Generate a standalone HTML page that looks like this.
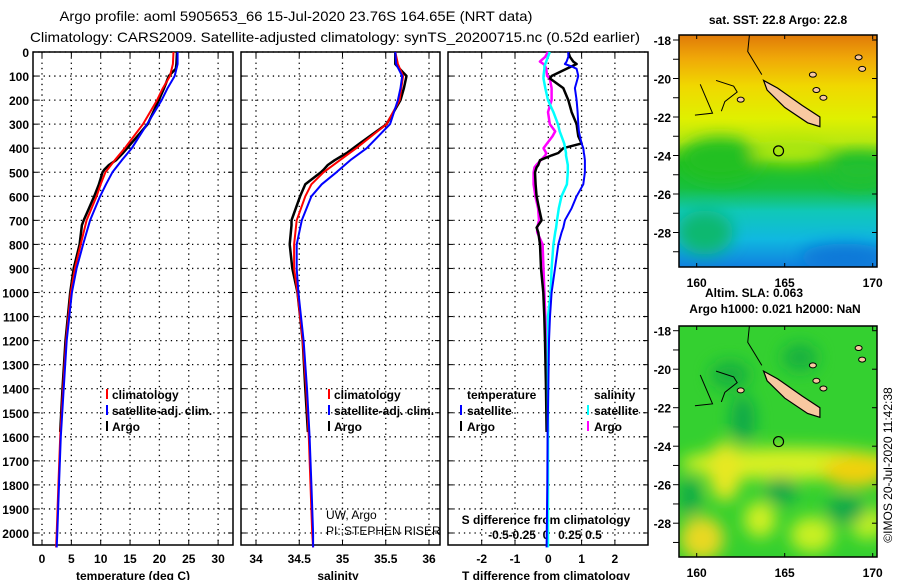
<!DOCTYPE html>
<html><head><meta charset="utf-8"><style>
html,body{margin:0;padding:0;background:#fff;width:900px;height:580px;overflow:hidden}
svg{display:block;font-family:"Liberation Sans",sans-serif}
.t{font-size:12px;font-weight:bold;fill:#000}
</style></head><body>
<svg id="s" width="900" height="580" viewBox="0 0 900 580">
<defs>
<linearGradient id="sst" x1="0" y1="0" x2="0" y2="1">
<stop offset="0" stop-color="#e07a08"/><stop offset="0.1" stop-color="#f0a808"/><stop offset="0.22" stop-color="#f0d800"/>
<stop offset="0.36" stop-color="#e0f000"/><stop offset="0.46" stop-color="#b8e810"/><stop offset="0.55" stop-color="#20c020"/>
<stop offset="0.66" stop-color="#18c040"/><stop offset="0.76" stop-color="#10c8b8"/><stop offset="0.88" stop-color="#10b8e0"/><stop offset="1" stop-color="#1080e0"/>
</linearGradient>
<filter id="bl" x="-50%" y="-50%" width="200%" height="200%"><feGaussianBlur stdDeviation="8"/></filter>
<clipPath id="c1"><rect x="679" y="35" width="198" height="232"/></clipPath>
<clipPath id="c2"><rect x="679" y="326" width="198" height="231"/></clipPath>
</defs>
<text x="296" y="21" text-anchor="middle" font-size="14" textLength="473" lengthAdjust="spacingAndGlyphs">Argo profile: aoml 5905653_66 15-Jul-2020 23.76S 164.65E (NRT data)</text>
<text x="335" y="42" text-anchor="middle" font-size="14" textLength="610" lengthAdjust="spacingAndGlyphs">Climatology: CARS2009. Satellite-adjusted climatology: synTS_20200715.nc (0.52d earlier)</text>
<g id="plots"></g>
<g id="maps"></g>
<text transform="translate(892,465) rotate(-90)" text-anchor="middle" font-size="12">©IMOS 20-Jul-2020 11:42:38</text>
</svg>
<script>
// ---- data ----
const depthTicks=[0,100,200,300,400,500,600,700,800,900,1000,1100,1200,1300,1400,1500,1600,1700,1800,1900,2000];
const tempTicks=[0,5,10,15,20,25,30];
const salTicks=[34,34.5,35,35.5,36];
const salTickLabels=["34","34.5","35","35.5","36"];
const tdTicks=[-2,-1,0,1,2];
const sdTicks=[-0.5,-0.25,0,0.25,0.5];
const sdTickLabels=["-0.5","-0.25","0","0.25","0.5"];
const climDepth=[0,50,100,150,200,300,400,450,500,550,600,700,800,900,1000,1200,1400,1600,1800,2000,2060];
const climTemp=[22.4,22.3,21.8,20.6,19.6,17.2,14.1,12.4,10.8,10.0,9.3,7.6,6.6,5.6,4.9,4.1,3.6,3.1,2.8,2.5,2.4];
const satTemp=[23.1,23.1,22.6,21.4,20.4,17.9,15.3,13.6,12.0,10.9,9.9,8.2,7.0,5.9,5.1,4.2,3.7,3.2,2.9,2.6,2.5];
const argoDepth=[0,50,70,100,150,200,300,380,420,450,470,490,500,550,600,650,700,720,800,900,1000,1200,1400,1580];
const argoTemp=[23.0,22.9,22.8,21.6,20.8,19.9,18.0,15.2,13.8,12.6,11.4,10.6,10.3,9.7,8.9,8.0,7.1,6.8,6.4,5.4,4.8,4.0,3.5,3.1];
const climSal=[35.61,35.64,35.70,35.68,35.66,35.51,35.16,34.97,34.78,34.64,34.57,34.47,34.44,34.44,34.48,34.54,34.58,34.61,34.63,34.65,34.66];
const satSal=[35.61,35.62,35.69,35.67,35.64,35.55,35.28,35.09,34.93,34.76,34.64,34.53,34.47,34.47,34.49,34.55,34.59,34.62,34.64,34.66,34.66];
const argoSal=[35.61,35.61,35.66,35.74,35.71,35.67,35.51,35.20,35.05,34.91,34.83,34.78,34.75,34.57,34.51,34.46,34.41,34.41,34.39,34.42,34.48,34.54,34.57,34.60];
const diffDepth=[0,20,40,50,60,70,100,110,150,200,250,300,330,350,380,400,420,430,450,470,480,500,550,600,650,700,730,750,800,900,1000,1100,1200,1400,1580];
const tdSat=[0.6,0.6,0.55,0.5,0.7,0.85,0.9,0.88,0.8,0.85,0.88,0.9,0.92,0.95,1.0,1.05,1.07,1.08,1.1,1.1,1.1,1.1,1.05,0.85,0.7,0.5,0.45,0.4,0.3,0.2,0.1,0.05,0.02,0.0,-0.02];
const tdArgo=[0.6,0.65,0.75,0.85,0.7,0.55,0.1,0.05,0.45,0.6,0.7,0.85,0.88,0.9,1.0,0.45,0.3,0.1,-0.25,-0.3,-0.35,-0.4,-0.38,-0.35,-0.28,-0.2,-0.35,-0.3,-0.25,-0.22,-0.15,-0.12,-0.1,-0.07,-0.05];
const sdSat=[0.02,0.0,-0.02,-0.03,-0.04,-0.04,-0.05,-0.05,-0.03,0.0,0.06,0.11,0.13,0.15,0.18,0.19,0.2,0.2,0.21,0.22,0.22,0.22,0.21,0.15,0.12,0.1,0.09,0.08,0.06,0.04,0.03,0.0,0.0,0.0,0.0];
const sdArgo=[0.0,-0.03,-0.09,-0.05,-0.03,-0.02,-0.01,0.02,0.04,0.04,0.0,0.02,0.08,0.05,-0.01,-0.05,-0.02,-0.03,-0.08,-0.13,-0.15,-0.16,-0.16,-0.14,-0.11,-0.1,-0.12,-0.12,-0.06,-0.05,-0.04,-0.03,-0.02,-0.01,0.0];

const NS="http://www.w3.org/2000/svg";
const P=document.getElementById('plots');
function mk(tag,at,par){const e=document.createElementNS(NS,tag);for(const k in at)e.setAttribute(k,at[k]);(par||P).appendChild(e);return e;}
const TOP=52,BOT=545;
const yD=d=>TOP+d*0.2405;
const xT=v=>42+v*5.87;
const xS=v=>256+(v-34)*86.5;
const xTD=v=>548.3+v*33.3;
const xSD=v=>548+v*90;
const xSDlab=v=>546+v*95;
const panels=[[33,233],[241,440],[448,648]];

panels.forEach((p,i)=>{
  const g=mk('g',{});
  
  
  depthTicks.forEach(d=>{
    const l=mk('line',{x1:p[0],x2:p[1],y1:yD(d),y2:yD(d),stroke:'#000','stroke-width':1.3,'stroke-dasharray':'1.3 4'},g);
    
    
    mk('line',{x1:p[0],x2:p[0]+5,y1:yD(d),y2:yD(d),stroke:'#000'},g);
    mk('line',{x1:p[1]-5,x2:p[1],y1:yD(d),y2:yD(d),stroke:'#000'},g);
  });
  const xt=i==0?tempTicks.map(xT):i==1?salTicks.map(xS):tdTicks.map(xTD);
  xt.forEach(x=>{
    mk('line',{x1:x,x2:x,y1:TOP,y2:BOT,stroke:'#000','stroke-width':1.3,'stroke-dasharray':'1.3 4'},g);
    mk('line',{x1:x,x2:x,y1:TOP,y2:TOP+5,stroke:'#000'},g);
    mk('line',{x1:x,x2:x,y1:BOT-5,y2:BOT,stroke:'#000'},g);
  });
  const r=mk('rect',{x:p[0],y:TOP,width:p[1]-p[0],height:BOT-TOP,fill:'none',stroke:'#000','stroke-width':1.5},g);
  
  
});
depthTicks.forEach(d=>{
  const t=mk('text',{x:29,y:yD(d)+5,'text-anchor':'end',class:'t'});t.textContent=d;
  
  
});
tempTicks.forEach(v=>{const t=mk('text',{x:xT(v),y:563,'text-anchor':'middle',class:'t'});t.textContent=v;
  });
salTicks.forEach((v,i)=>{const t=mk('text',{x:xS(v),y:563,'text-anchor':'middle',class:'t'});t.textContent=salTickLabels[i];
  });
tdTicks.forEach(v=>{const t=mk('text',{x:xTD(v),y:563,'text-anchor':'middle',class:'t'});t.textContent=v;
  });
sdTicks.forEach((v,i)=>{const t=mk('text',{x:xSDlab(v),y:539,'text-anchor':'middle',class:'t'});t.textContent=sdTickLabels[i];
  });
function lbl(x,y,s,name,anchor){const t=mk('text',{x:x,y:y,'text-anchor':anchor||'middle',class:'t'});t.textContent=s;
  return t;}
lbl(133,580,'temperature (deg C)','x-axis-title-temperature');
lbl(338,580,'salinity','x-axis-title-salinity');
lbl(546,580,'T difference from climatology','x-axis-title-t-diff');
lbl(546,524,'S difference from climatology','s-diff-axis-title');

function series(xs,ds,f,col,w,name){
  const pts=ds.map((d,i)=>f(xs[i]).toFixed(1)+','+yD(d).toFixed(1)).join(' ');
  const pl=mk('polyline',{points:pts,fill:'none',stroke:col,'stroke-width':w,'stroke-linejoin':'round'});
  
  
}
series(argoTemp,argoDepth,xT,'#000',2.5,'argo-temperature-line');
series(climTemp,climDepth,xT,'#f00',2,'climatology-temperature-line');
series(satTemp,climDepth,xT,'#00f',2,'satellite-temperature-line');
series(argoSal,argoDepth,xS,'#000',2.5,'argo-salinity-line');
series(climSal,climDepth,xS,'#f00',2,'climatology-salinity-line');
series(satSal,climDepth,xS,'#00f',2,'satellite-salinity-line');
const ddFull=diffDepth.concat([1800,2060]);
series(sdArgo,diffDepth,xSD,'#f0f',2.5,'argo-s-diff-line');
series(tdArgo,diffDepth,xTD,'#000',2.5,'argo-t-diff-line');
series(sdSat.concat([0.0,0.0]),ddFull,xSD,'#0ff',2.5,'satellite-s-diff-line');
series(tdSat.concat([-0.03,-0.05]),ddFull,xTD,'#00f',2,'satellite-t-diff-line');

function leg(mx,tx,y,col,s,name){
  const r=mk('rect',{x:mx,y:y-10,width:2,height:10,fill:col});
  
  lbl(tx,y,s,name,'start');
}
leg(106,112,399,'#f00','climatology','legend-climatology');
leg(106,112,415,'#00f','satellite-adj. clim.','legend-satellite-adj');
leg(106,112,431,'#000','Argo','legend-argo');
leg(328,334,399,'#f00','climatology','legend-climatology-2');
leg(328,334,415,'#00f','satellite-adj. clim.','legend-satellite-adj-2');
leg(328,334,431,'#000','Argo','legend-argo-2');
lbl(467,399,'temperature','legend-temperature-heading','start');
leg(460,467,415,'#00f','satellite','legend-t-satellite');
leg(460,467,431,'#000','Argo','legend-t-argo');
lbl(594,399,'salinity','legend-salinity-heading','start');
leg(587,594,415,'#0ff','satellite','legend-s-satellite');
leg(587,594,431,'#f0f','Argo','legend-s-argo');
const u=mk('text',{x:326,y:519,'font-size':12});u.textContent='UW, Argo';

const u2=mk('text',{x:326,y:535,'font-size':12});u2.textContent='PI: STEPHEN RISER';


// ---- maps ----
const M=document.getElementById('maps');
const latTicks=[-18,-20,-22,-24,-26,-28];
const lonTicks=[160,165,170];
function map(top,bot,lat18,clip,kind,name){
  const g=mk('g',{},M);
  
  
  const py=l=>lat18+(-18-l)*19.25, px=l=>696.7+(l-160)*17.6;
  const inner=mk('g',{'clip-path':'url(#'+clip+')'},g);
  if(kind==1){
    mk('rect',{x:679,y:top,width:198,height:bot-top,fill:'url(#sst)'},inner);
    const b=mk('g',{filter:'url(#bl)'},inner);
    mk('ellipse',{cx:720,cy:py(-24.2),rx:40,ry:22,fill:'#20c020'},b);
    mk('ellipse',{cx:860,cy:py(-24.8),rx:30,ry:16,fill:'#20c030'},b);
    mk('ellipse',{cx:790,cy:py(-23.8),rx:40,ry:12,fill:'#b0e810'},b);
    mk('ellipse',{cx:845,cy:py(-29.3),rx:45,ry:14,fill:'#0878d8'},b);
    mk('ellipse',{cx:705,cy:py(-28.0),rx:28,ry:22,fill:'#10b870'},b);
  } else {
    mk('rect',{x:679,y:top,width:198,height:bot-top,fill:'#34d030'},inner);
    const b=mk('g',{filter:'url(#bl)'},inner);
    mk('ellipse',{cx:790,cy:py(-24.9),rx:110,ry:16,fill:'#d8f020'},b);
    mk('ellipse',{cx:855,cy:py(-25.3),rx:32,ry:16,fill:'#f0d010'},b);
    mk('ellipse',{cx:725,cy:py(-25.3),rx:16,ry:30,fill:'#e8e820'},b);
    mk('ellipse',{cx:702,cy:py(-28.8),rx:22,ry:22,fill:'#e8d820'},b);
    mk('ellipse',{cx:760,cy:py(-27.8),rx:16,ry:18,fill:'#d0f020'},b);
    mk('ellipse',{cx:812,cy:py(-28.6),rx:22,ry:18,fill:'#c8f020'},b);
    mk('ellipse',{cx:868,cy:py(-28.0),rx:18,ry:16,fill:'#c0f020'},b);
    mk('ellipse',{cx:743,cy:py(-22.6),rx:12,ry:24,fill:'#10a848'},b);
    mk('ellipse',{cx:781,cy:py(-26.3),rx:16,ry:14,fill:'#10a848'},b);
    mk('ellipse',{cx:846,cy:py(-27.3),rx:20,ry:14,fill:'#10a848'},b);
    mk('ellipse',{cx:690,cy:py(-26.6),rx:10,ry:20,fill:'#10a848'},b);
    mk('ellipse',{cx:800,cy:py(-19.4),rx:18,ry:14,fill:'#18b040'},b);
    mk('ellipse',{cx:730,cy:py(-20.3),rx:20,ry:14,fill:'#18b040'},b);
  }
  const isl=mk('polygon',{points:[[px(163.8),py(-20.1)],[px(164.6),py(-20.5)],[px(166.0),py(-21.4)],[px(167.0),py(-22.0)],[px(167.0),py(-22.5)],[px(166.3),py(-22.3)],[px(165.0),py(-21.5)],[px(164.0),py(-20.6)]].map(p=>p.join(',')).join(' '),fill:'#f8c8a0',stroke:'#000','stroke-width':1.2},inner);
  
  mk('path',{d:`M${px(163)} ${py(-17.7)} L${px(162.9)} ${py(-18.6)} L${px(163.3)} ${py(-19.2)} L${px(163.7)} ${py(-19.8)} M${px(160.2)} ${py(-20.3)} L${px(160.9)} ${py(-21.8)} L${px(159.9)} ${py(-21.9)} M${px(161.1)} ${py(-20.1)} L${px(162.1)} ${py(-20.4)} L${px(162.3)} ${py(-20.7)} L${px(161.6)} ${py(-21.2)} L${px(161.4)} ${py(-21.7)}`,fill:'none',stroke:'#000','stroke-width':1},inner);
  [[162.5,-21.1],[166.6,-19.8],[166.8,-20.6],[167.2,-21],[169.2,-18.9],[169.4,-19.5]].forEach(c=>mk('ellipse',{cx:px(c[0]),cy:py(c[1]),rx:3.5,ry:2.5,fill:'#f8c8a0',stroke:'#000'},inner));
  const c=mk('circle',{cx:px(164.65),cy:py(-23.76),r:5,fill:'none',stroke:'#000','stroke-width':1.2},g);
  
  mk('rect',{x:679,y:top,width:198,height:bot-top,fill:'none',stroke:'#000','stroke-width':1.5},g);
  latTicks.forEach(l=>{
    mk('line',{x1:673,x2:679,y1:py(l),y2:py(l),stroke:'#000'},g);
    mk('line',{x1:673,x2:679,y1:py(l-1),y2:py(l-1),stroke:'#000'},g);
    mk('line',{x1:872,x2:877,y1:py(l),y2:py(l),stroke:'#000'},g);
    const t=mk('text',{x:671,y:py(l)+5,'text-anchor':'end',class:'t'},g);t.textContent=l;
    
  });
  lonTicks.forEach(l=>{
    mk('line',{x1:px(l),x2:px(l),y1:top,y2:top+4,stroke:'#000'},g);
    mk('line',{x1:px(l),x2:px(l),y1:bot-4,y2:bot,stroke:'#000'},g);
    const t=mk('text',{x:px(l),y:bot+20,'text-anchor':'middle',class:'t'},g);t.textContent=l;
    
  });
}
map(35,267,40,'c1',1,'sst-map');
map(326,557,330.7,'c2',2,'sla-map');
function mt(x,y,s,name){const t=mk('text',{x:x,y:y,'text-anchor':'middle',class:'t'},M);t.textContent=s;
  }
mt(778,24,'sat. SST: 22.8 Argo: 22.8','sst-map-title');
mt(754,297,'Altim. SLA: 0.063','sla-title');
mt(775,313,'Argo h1000: 0.021 h2000: NaN','sla-map-title');
</script>
</body></html>
